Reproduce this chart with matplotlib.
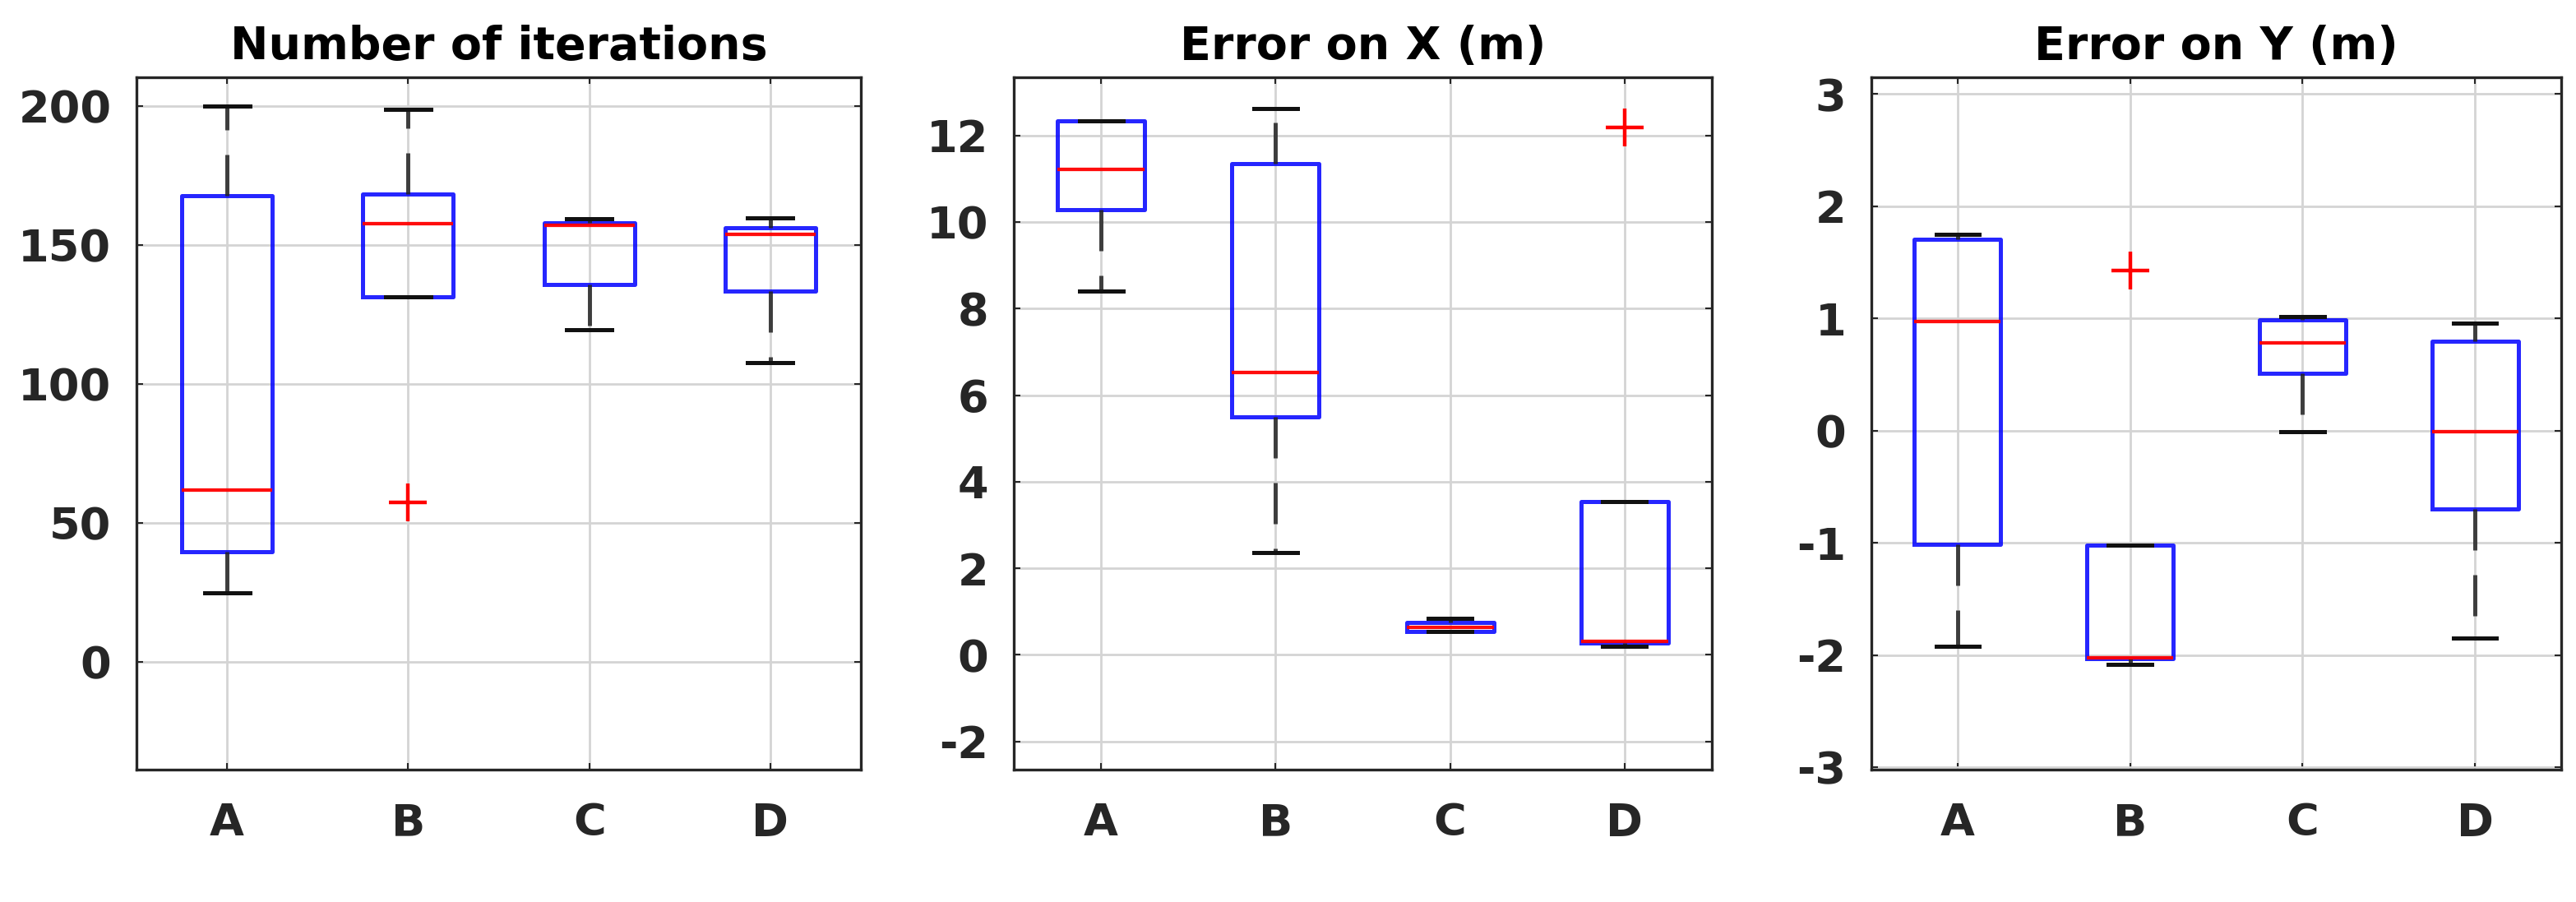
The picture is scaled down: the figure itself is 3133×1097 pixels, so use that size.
import matplotlib
matplotlib.use("Agg")
import matplotlib.pyplot as plt

categories = ["A", "B", "C", "D"]

titles = ["Number of iterations", "Error on X (m)", "Error on Y (m)"]

# per panel: whisker low, q1, median, q3, whisker high for A..D
iter_wlo = [24.8, 131.3, 119.6, 107.7]
iter_q1 = [39.7, 131.3, 135.9, 133.5]
iter_med = [61.9, 157.7, 157.1, 153.8]
iter_q3 = [167.7, 168.3, 158.1, 156.3]
iter_whi = [200.0, 198.8, 159.5, 159.7]
iter_out = [[], [57.5], [], []]

ex_wlo = [8.41, 2.36, 0.54, 0.19]
ex_q1 = [10.28, 5.50, 0.54, 0.28]
ex_med = [11.21, 6.52, 0.64, 0.32]
ex_q3 = [12.34, 11.34, 0.75, 3.55]
ex_whi = [12.34, 12.62, 0.85, 3.55]
ex_out = [[], [], [], [12.19]]

ey_wlo = [-1.92, -2.08, -0.01, -1.85]
ey_q1 = [-1.01, -2.03, 0.51, -0.70]
ey_med = [0.97, -2.02, 0.78, -0.01]
ey_q3 = [1.71, -1.02, 0.99, 0.80]
ey_whi = [1.75, -1.02, 1.02, 0.96]
ey_out = [[], [1.43], [], []]

iter_ticks = [0, 50, 100, 150, 200]
ex_ticks = [-2, 0, 2, 4, 6, 8, 10, 12]
ey_ticks = [-3, -2, -1, 0, 1, 2, 3]

panels = [
    (iter_wlo, iter_q1, iter_med, iter_q3, iter_whi, iter_out, iter_ticks, (-38.7, 210.3)),
    (ex_wlo, ex_q1, ex_med, ex_q3, ex_whi, ex_out, ex_ticks, (-2.65, 13.34)),
    (ey_wlo, ey_q1, ey_med, ey_q3, ey_whi, ey_out, ey_ticks, (-3.02, 3.15)),
]

W, H = 3133, 1097
fig = plt.figure(figsize=(W / 100, H / 100), dpi=100)
plt.rcParams['font.family'] = ['DejaVu Sans']

axes_px = [(166, 1047), (1233, 2082), (2276, 3115)]
top_px, bot_px = 94, 936

fs = 39
lw = 3.6
for (l, r), title, p in zip(axes_px, titles, panels):
    wlo, q1, med, q3, whi, out, ticks, ylim = p
    ax = fig.add_axes([l / W, 1 - bot_px / H, (r - l) / W, (bot_px - top_px) / H])
    stats = []
    for i, c in enumerate(categories):
        stats.append(dict(label=c, whislo=wlo[i], q1=q1[i], med=med[i],
                          q3=q3[i], whishi=whi[i], fliers=out[i]))
    ax.bxp(stats, positions=[1, 2, 3, 4], widths=0.5, capwidths=0.25,
           showfliers=True, patch_artist=False,
           boxprops=dict(color="#0000ff", linewidth=lw, alpha=0.85),
           medianprops=dict(color="#ff0000", linewidth=lw * 0.85, alpha=0.95),
           whiskerprops=dict(color="#222222", linewidth=lw, linestyle=(0, (10, 6)), alpha=0.85),
           capprops=dict(color="#111111", linewidth=lw),
           flierprops=dict(marker="+", markeredgecolor="#ff0000", markersize=33,
                           markeredgewidth=3.2, linestyle="none"))
    ax.set_xlim(0.5, 4.5)
    ax.set_ylim(*ylim)
    ax.set_yticks(ticks)
    ax.set_yticklabels([str(t) for t in ticks])
    ax.set_xticks([1, 2, 3, 4])
    ax.set_xticklabels(categories)
    ax.grid(True, color="#d4d4d4", linewidth=2.0)
    ax.set_axisbelow(True)
    ax.tick_params(axis="both", direction="in", length=6, width=1.5, color="#262626",
                   labelsize=fs, labelcolor="#262626", top=True, right=True)
    ax.tick_params(axis="y", pad=22)
    ax.tick_params(axis="x", pad=28)
    for lab in ax.get_xticklabels() + ax.get_yticklabels():
        lab.set_fontweight("bold")
    for s in ax.spines.values():
        s.set_color("#262626")
        s.set_linewidth(2.4)
    ax.set_title(title, fontsize=fs + 1, fontweight="bold", pad=16)

fig.savefig("out.png", dpi=100, facecolor="white")
